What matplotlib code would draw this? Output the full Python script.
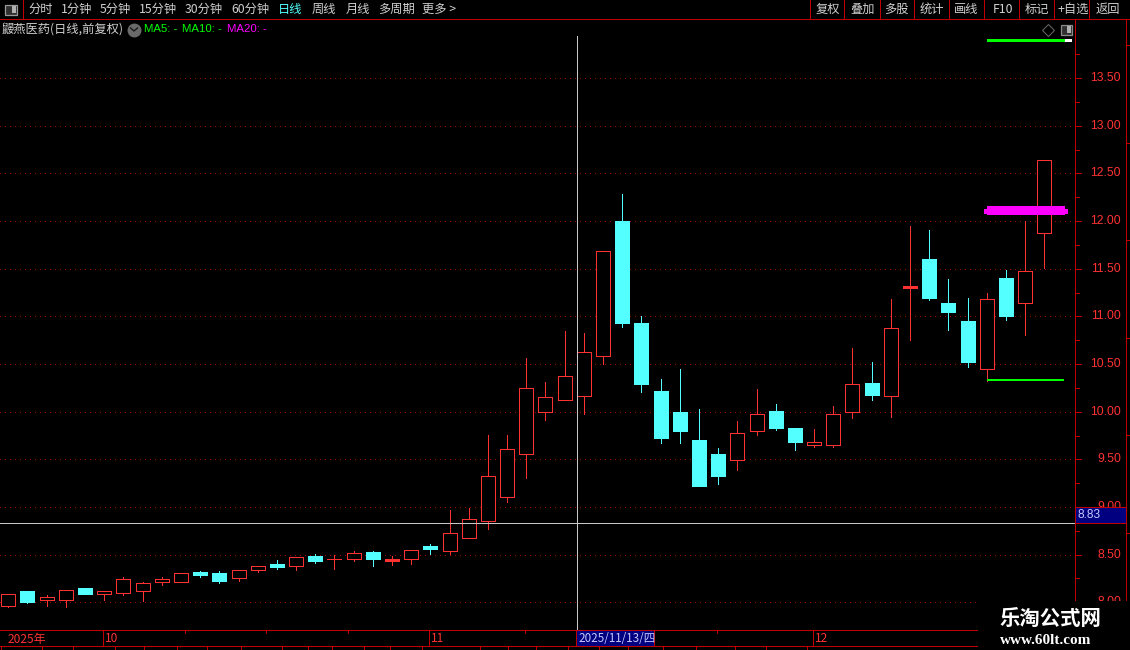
import matplotlib
matplotlib.use("Agg")
import matplotlib.pyplot as plt
from matplotlib.patches import Rectangle

plt.rcParams['font.family'] = ['Noto Sans CJK SC', 'DejaVu Sans']

# Daily candles: open, close, high, low
opens = [7.96,8.12,8.02,8.02,8.15,8.09,8.10,8.12,8.21,8.21,8.32,8.31,8.25,8.34,8.40,8.38,8.49,8.45,8.45,8.53,
         8.43,8.45,8.59,8.54,8.67,8.85,9.10,9.56,10.00,10.12,10.16,10.58,12.00,10.93,10.22,10.00,9.70,9.56,9.49,9.80,
         10.01,9.83,9.65,9.65,10.00,10.30,10.17,11.30,11.60,11.14,10.95,10.45,11.40,11.14,11.88]
closes = [8.09,8.00,8.06,8.13,8.09,8.12,8.24,8.20,8.24,8.31,8.29,8.22,8.34,8.38,8.37,8.47,8.43,8.45,8.52,8.45,
          8.45,8.55,8.56,8.73,8.87,9.33,9.61,10.25,10.15,10.37,10.63,11.69,10.93,10.29,9.72,9.80,9.22,9.33,9.78,9.98,
          9.83,9.68,9.68,9.98,10.29,10.18,10.88,11.32,11.19,11.05,10.52,11.18,11.00,11.48,12.64]
highs = [8.09,8.12,8.08,8.13,8.15,8.12,8.26,8.21,8.26,8.31,8.33,8.33,8.34,8.38,8.44,8.47,8.51,8.50,8.54,8.54,
         8.49,8.55,8.61,8.97,8.99,9.76,9.76,10.56,10.31,10.85,10.83,11.69,12.28,11.00,10.34,10.45,10.03,9.62,9.90,10.24,
         10.08,9.83,9.82,10.06,10.67,10.52,11.18,11.95,11.91,11.39,11.19,11.25,11.49,12.00,12.64]
lows = [7.95,7.99,7.96,7.95,8.09,8.02,8.08,8.01,8.18,8.21,8.26,8.20,8.22,8.32,8.35,8.34,8.41,8.35,8.43,8.38,
        8.39,8.40,8.51,8.51,8.67,8.77,9.05,9.30,9.91,10.12,9.98,10.50,10.89,10.21,9.67,9.67,9.22,9.24,9.39,9.76,
        9.81,9.60,9.63,9.63,9.93,10.12,9.94,10.75,11.17,10.86,10.47,10.32,10.96,10.80,11.51]
flat_up = [20, 47]  # small filled red bars
price_ticks = [8.00,8.50,9.00,9.50,10.00,10.50,11.00,11.50,12.00,12.50,13.00,13.50]
crosshair_index = 29.66
crosshair_price = 8.83
menu_left = ['分时','1分钟','5分钟','15分钟','30分钟','60分钟','日线','周线','月线','多周期','更多 >']
menu_left_x = [28,61,100,139,185,231,278,312,346,378,422]
menu_right = ['复权','叠加','多股','统计','画线','F10','标记','+自选','返回']
menu_right_x = [816,850,884,920,954,993,1025,1057,1096]
menu_dividers = [810,844,880,914,949,984,1019,1054,1089]
month_labels = ['2025年','10','11','12']
month_x = [8,105,431,815]
month_div = [103,429,813]
month_ticks = [185,266,348,525,717]
lower_ticks = [1,42,73,115,144,177,207,241,282,308,332,364,390,422,480,508,536,568,599,628,663,696,735,766,807]

RED = '#FF3232'
CYAN = '#54FFFF'
DARK = '#C00000'
PX = 0.7  # about one pixel, in points
W, H = 1130, 650
fig = plt.figure(figsize=(W/100, H/100), dpi=100, facecolor='black')

# Main price panel: pixels x 0..1075, y 36..630
ax = fig.add_axes([0, (H-630)/H, 1075/W, (630-36)/H], facecolor='black')
ax.set_xlim(-0.433, 55.6)
ax.set_ylim(7.709, 13.943)
ax.axis('off')

for p in price_ticks:
    ax.axhline(p, color='#A00000', lw=PX, ls=(0, (1, 5)), zorder=1, antialiased=False)

bw = 0.73
for i, (o, c, h, l) in enumerate(zip(opens, closes, highs, lows)):
    up = c >= o
    col = RED if up else CYAN
    top, bot = max(o, c), min(o, c)
    if h > top:
        ax.vlines(i, top, h, color=col, lw=PX, zorder=3, antialiased=False)
    if l < bot:
        ax.vlines(i, l, bot, color=col, lw=PX, zorder=3, antialiased=False)
    if up and i not in flat_up:
        ax.add_patch(Rectangle((i-bw/2, bot), bw, top-bot, fc='black', ec=col, lw=PX,
                               zorder=4, antialiased=False))
    elif top - bot < 0.01:
        ax.hlines(top, i-bw/2, i+bw/2, color=col, lw=PX, zorder=4, antialiased=False)
    else:
        ax.add_patch(Rectangle((i-bw/2, bot), bw, top-bot, fc=col, ec=col, lw=PX,
                               zorder=4, antialiased=False))

# Drawn segments
ax.hlines(13.90, 51.0, 55.1, color='#00FF00', lw=1.0, zorder=5, antialiased=False)
ax.hlines(13.90, 55.1, 55.4, color='white', lw=1.0, zorder=5, antialiased=False)
ax.hlines(10.33, 51.0, 55.05, color='#00FF00', lw=1.44, zorder=5, antialiased=False)
ax.hlines(12.11, 50.85, 55.2, color='#FF00FF', lw=3.6, zorder=6, antialiased=False, capstyle='butt')
ax.hlines(12.115, 51.0, 55.05, color='#FF00FF', lw=5.2, zorder=6, antialiased=False, capstyle='butt')

# Crosshair
ax.axvline(crosshair_index, color='#C8C8C8', lw=PX, zorder=7, antialiased=False)
ax.axhline(crosshair_price, color='#C8C8C8', lw=PX, zorder=7, antialiased=False)

# Chrome overlay in pixel coordinates
ov = fig.add_axes([0, 0, 1, 1], facecolor='none')
ov.set_xlim(0, W)
ov.set_ylim(H, 0)
ov.axis('off')

def hl(y, x0, x1, c=DARK):
    ov.plot([x0, x1], [y, y], color=c, lw=PX, antialiased=False, solid_capstyle='butt')
def vl(x, y0, y1, c=DARK):
    ov.plot([x, x], [y0, y1], color=c, lw=PX, antialiased=False, solid_capstyle='butt')

hl(19, 0, W)
vl(23, 0, 19)
for x in menu_dividers:
    vl(x, 0, 19)

TXT = '#D0D0D0'
for s, x in zip(menu_left, menu_left_x):
    ov.text(x, 9.5, s, color=CYAN if s == '日线' else TXT, fontsize=8.8, va='center', ha='left')
for s, x in zip(menu_right, menu_right_x):
    ov.text(x, 9.5, s, color=TXT, fontsize=8.8, va='center', ha='left')

# Toggle icons
ov.add_patch(Rectangle((5, 4.5), 12, 10, fc='#303030', ec='#9A9A9A', lw=0.9))
ov.add_patch(Rectangle((11.5, 6), 4, 7, fc='#B0B0B0', ec='none'))
ov.add_patch(Rectangle((1060.5, 24.5), 11, 10, fc='#303030', ec='#8A8A8A', lw=0.9))
ov.add_patch(Rectangle((1066.5, 26), 4, 7, fc='#B0B0B0', ec='none'))
ov.plot([1047.5], [29.5], marker='D', ms=6, mfc='none', mec='#6A6A6A', mew=0.7)

# Title row
ov.text(2, 29.5, '鼹燕医药(日线,前复权)', color=TXT, fontsize=8.8, va='center', ha='left')
ov.plot([134], [29.5], marker='o', ms=9, color='#6A6A6A')
ov.plot([130.5, 134, 137.5], [28, 31, 28], color='#1A1A1A', lw=1)
ov.text(144, 29.5, 'MA5: -', color='#00FF00', fontsize=8.2, va='center', ha='left', family='Liberation Sans')
ov.text(182, 29.5, 'MA10: -', color='#00FF00', fontsize=8.2, va='center', ha='left', family='Liberation Sans')
ov.text(227, 29.5, 'MA20: -', color='#FF00FF', fontsize=8.2, va='center', ha='left', family='Liberation Sans')

# Right price axis
vl(1075, 19, 630)
vl(1126, 19, 630)
yp = lambda p: 602.3 - (p - 8.0) * 95.3
for p in price_ticks:
    hl(yp(p), 1075, 1081)
    ov.text(1121, yp(p), f'{p:.2f}', color=RED, fontsize=8.7, va='center', ha='right', family='Liberation Sans')
    hl(yp(p + 0.25), 1075, 1079)
for v in range(0, 8):
    hl(45 + v*97.5, 1126, W)

# Crosshair price box
ov.add_patch(Rectangle((1075, 507), 51, 16, fc='#000080', ec=DARK, lw=PX, zorder=5, antialiased=False))
ov.text(1077, 515.5, f'{crosshair_price:.2f}', color='#C8C8FF', fontsize=8.6, va='center', ha='left',
        family='Liberation Sans', zorder=6)

# Bottom date strip
hl(630, 0, W)
hl(646, 0, W)
for x in month_div:
    vl(x, 630, 646)
for x in month_ticks:
    vl(x, 630, 633)
for s, x in zip(month_labels, month_x):
    ov.text(x, 639, s, color=RED, fontsize=8.6, va='center', ha='left')
ov.add_patch(Rectangle((576, 630), 78, 16, fc='#000080', ec=DARK, lw=PX, zorder=5, antialiased=False))
ov.text(578, 638.5, '2025/11/13/四', color='#C8C8FF', fontsize=8.4, va='center', ha='left', zorder=6)
for x in lower_ticks:
    vl(x, 646, 650)

# Site watermark block
ov.add_patch(Rectangle((978, 601), W-978, 49, fc='black', ec='none', zorder=8))
ov.text(1050, 618, '乐淘公式网', color='white', fontsize=14.7, fontweight='bold', va='center', ha='center', zorder=9,
        family='Noto Sans CJK SC')
ov.text(1046, 640, 'www.60lt.com', color='white', fontsize=11, fontweight='bold', va='center', ha='center', zorder=9,
        family='Liberation Serif')

fig.savefig('out.png', dpi=100, facecolor='black')
